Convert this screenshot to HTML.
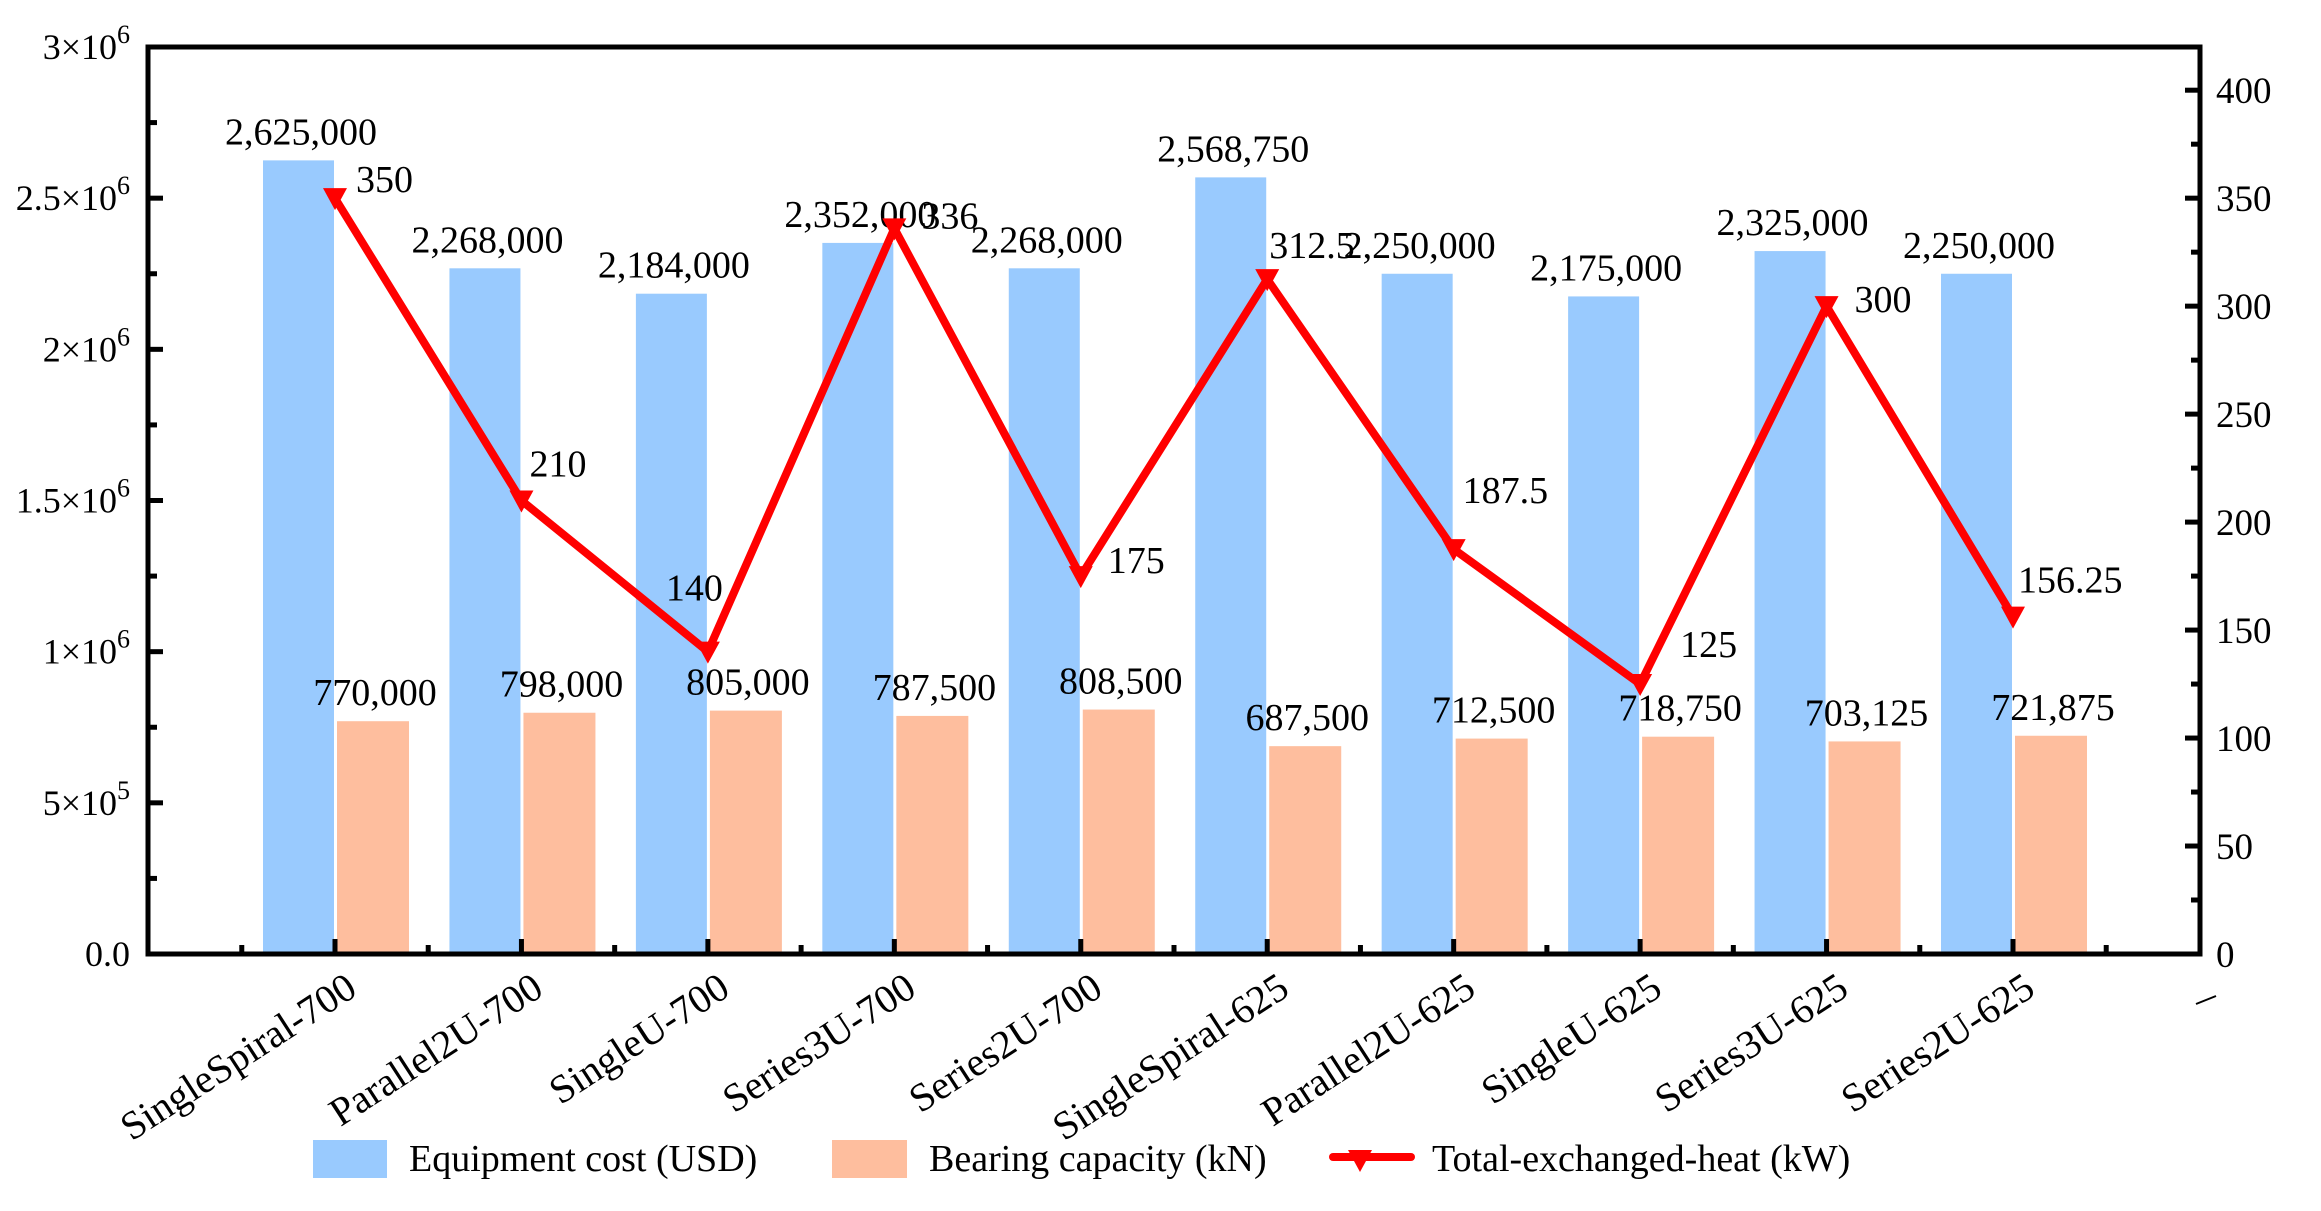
<!DOCTYPE html>
<html><head><meta charset="utf-8">
<style>
html,body{margin:0;padding:0;background:#fff;}
svg{display:block;font-family:"Liberation Serif","Times New Roman",serif;}
text{font-family:"Liberation Serif","Times New Roman",serif;}
</style></head>
<body>
<svg id="chart" width="2321" height="1211" viewBox="0 0 2321 1211" xmlns="http://www.w3.org/2000/svg" font-family="Liberation Serif, serif"></svg>
<script>
const categories = ["SingleSpiral-700","Parallel2U-700","SingleU-700","Series3U-700","Series2U-700","SingleSpiral-625","Parallel2U-625","SingleU-625","Series3U-625","Series2U-625"];
const equipmentCost = [2625000,2268000,2184000,2352000,2268000,2568750,2250000,2175000,2325000,2250000];
const bearingCapacity = [770000,798000,805000,787500,808500,687500,712500,718750,703125,721875];
const totalHeat = [350,210,140,336,175,312.5,187.5,125,300,156.25];
const heatLabels = ["350","210","140","336","175","312.5","187.5","125","300","156.25"];
const leftTicks = [0,500000,1000000,1500000,2000000,2500000,3000000];
const leftTickMant = ["0.0","5","1","1.5","2","2.5","3"];
const leftTickExp = ["","5","6","6","6","6","6"];
const rightTicks = [0,50,100,150,200,250,300,350,400];
// label offsets (dx, dy) for line value labels
const heatLabelDx = [21,8,-42,27,27,2,9,40,28,5];
const heatLabelDy = [-19,-37,-64,-13,-16,-34,-59,-40,-7,-37];

const svg = document.getElementById('chart');
const NS = "http://www.w3.org/2000/svg";
const FONT = '"Liberation Serif", "Times New Roman", serif';
const L = 148, R = 2200, T = 47, B = 954;
const x0 = 335, step = (2013-335)/9;
function xC(i){ return x0 + step*i; }
function yL(v){ return B - v*(B-T)/3000000; }
function yR(v){ return B - v*(B-T)/420; }
function fmt(v){ return v.toLocaleString('en-US'); }
function mk(tag, attrs, parent){
  const e = document.createElementNS(NS, tag);
  for (const k in attrs) e.setAttribute(k, attrs[k]);
  if (tag === 'text') e.style.fontFamily = FONT;
  (parent||svg).appendChild(e);
  return e;
}
const gBars = mk('g', {});


categories.forEach((c,i)=>{
  const cx = xC(i);
  const b1 = mk('rect', {x: cx-72, y: yL(equipmentCost[i]), width: 71, height: B - yL(equipmentCost[i]), fill: '#99CAFE'}, gBars);
  
  
  const b2 = mk('rect', {x: cx+2, y: yL(bearingCapacity[i]), width: 72, height: B - yL(bearingCapacity[i]), fill: '#FEBE9E'}, gBars);
  
  
  const t1 = mk('text', {x: cx-34, y: yL(equipmentCost[i]) - 16, 'font-size': 38, 'text-anchor': 'middle'}, gBars);
  t1.textContent = fmt(equipmentCost[i]);
  
  
  const t2 = mk('text', {x: cx+40, y: yL(bearingCapacity[i]) - 16, 'font-size': 38, 'text-anchor': 'middle'}, gBars);
  t2.textContent = fmt(bearingCapacity[i]);
  
  
});
const frame = mk('rect', {x: L, y: T, width: R-L, height: B-T, fill: 'none', stroke: '#000', 'stroke-width': 5});


leftTicks.forEach((v,i)=>{
  const y = yL(v);
  mk('line', {x1: L, x2: L+15, y1: y, y2: y, stroke: '#000', 'stroke-width': 5});
  if (i < leftTicks.length-1) { const ym = yL(v+250000); mk('line', {x1: L, x2: L+9, y1: ym, y2: ym, stroke: '#000', 'stroke-width': 5}); }
  const t = mk('text', {x: L-18, y: y+12, 'font-size': 36, 'text-anchor': 'end'});
  
  
  if (leftTickExp[i]) {
    t.textContent = leftTickMant[i] + "\u00d710";
    const s = mk('tspan', {dy: -16, 'font-size': 26}, t); s.textContent = leftTickExp[i];
  } else t.textContent = leftTickMant[i];
});
rightTicks.forEach((v,i)=>{
  const y = yR(v);
  mk('line', {x1: R-15, x2: R, y1: y, y2: y, stroke: '#000', 'stroke-width': 5});
  if (i < rightTicks.length-1) { const ym = yR(v+25); mk('line', {x1: R-9, x2: R, y1: ym, y2: ym, stroke: '#000', 'stroke-width': 5}); }
  const t = mk('text', {x: R+16, y: y+13, 'font-size': 37});
  t.textContent = String(v);
  
  
});
categories.forEach((c,i)=>{
  const cx = xC(i);
  mk('line', {x1: cx, x2: cx, y1: B, y2: B-15, stroke: '#000', 'stroke-width': 5});
  mk('line', {x1: cx-step/2, x2: cx-step/2, y1: B, y2: B-9, stroke: '#000', 'stroke-width': 5});
  const t = mk('text', {x: cx+24, y: 994, 'font-size': 40, 'text-anchor': 'end', transform: `rotate(-33 ${cx+24} 994)`});
  t.textContent = c;
  
  
});
mk('line', {x1: xC(9)+step/2, x2: xC(9)+step/2, y1: B, y2: B-9, stroke: '#000', 'stroke-width': 5});
const dash = mk('line', {x1: 2196, y1: 1004, x2: 2216, y2: 996, stroke: '#000', 'stroke-width': 2});


const gLine = mk('g', {});


const pts = totalHeat.map((v,i)=>`${xC(i)},${yR(v)}`).join(' ');
const pl = mk('polyline', {points: pts, fill: 'none', stroke: '#FF0000', 'stroke-width': 8, 'stroke-linejoin': 'round'}, gLine);


totalHeat.forEach((v,i)=>{
  const x = xC(i), y = yR(v);
  const m = mk('polygon', {points: `${x-12},${y-10} ${x+12},${y-10} ${x},${y+12}`, fill: '#FF0000'}, gLine);
  
  
  const t = mk('text', {x: x+heatLabelDx[i], y: y+heatLabelDy[i]+13, 'font-size': 38}, gLine);
  t.textContent = heatLabels[i];
  
  
});
const gLeg = mk('g', {});


const lr1 = mk('rect', {x: 313, y: 1140, width: 74, height: 38, fill: '#99CAFE'}, gLeg);


const lt1 = mk('text', {x: 409, y: 1171, 'font-size': 38}, gLeg); lt1.textContent = "Equipment cost (USD)";


const lr2 = mk('rect', {x: 832, y: 1140, width: 75, height: 38, fill: '#FEBE9E'}, gLeg);


const lt2 = mk('text', {x: 929, y: 1171, 'font-size': 38}, gLeg); lt2.textContent = "Bearing capacity (kN)";


const ll = mk('line', {x1: 1333, x2: 1411, y1: 1157, y2: 1157, stroke: '#FF0000', 'stroke-width': 8, 'stroke-linecap': 'round'}, gLeg);


const lm = mk('polygon', {points: '1348,1150 1372,1150 1360,1172', fill: '#FF0000'}, gLeg);


const lt3 = mk('text', {x: 1432, y: 1171, 'font-size': 38}, gLeg); lt3.textContent = "Total-exchanged-heat (kW)";


</script>
</body></html>
